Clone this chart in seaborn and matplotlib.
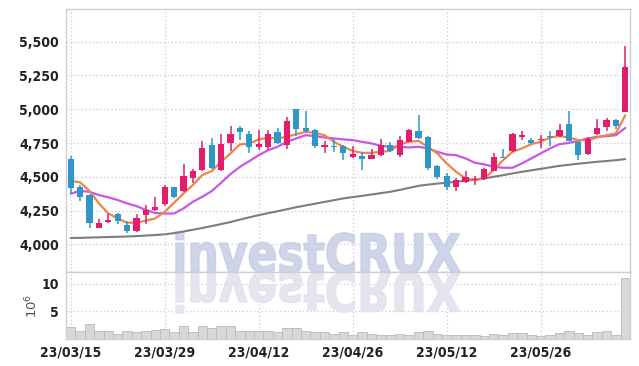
import numpy as np
import pandas as pd
import matplotlib
matplotlib.use("Agg")
import matplotlib.pyplot as plt
import seaborn as sns
from matplotlib import font_manager
from matplotlib.textpath import TextPath
from matplotlib.patches import PathPatch
from matplotlib.transforms import Affine2D
from matplotlib.font_manager import FontProperties

# ---------------- data ----------------
dates = ["23/03/15", "23/03/16", "23/03/17", "23/03/20", "23/03/21", "23/03/22", "23/03/23",
         "23/03/24", "23/03/27", "23/03/28", "23/03/29", "23/03/30", "23/03/31", "23/04/03",
         "23/04/04", "23/04/05", "23/04/06", "23/04/07", "23/04/10", "23/04/11", "23/04/12",
         "23/04/13", "23/04/14", "23/04/17", "23/04/18", "23/04/19", "23/04/20", "23/04/21",
         "23/04/24", "23/04/25", "23/04/26", "23/04/27", "23/04/28", "23/05/02", "23/05/03",
         "23/05/04", "23/05/08", "23/05/09", "23/05/10", "23/05/11", "23/05/12", "23/05/15",
         "23/05/16", "23/05/17", "23/05/18", "23/05/19", "23/05/22", "23/05/23", "23/05/24",
         "23/05/25", "23/05/26", "23/05/30", "23/05/31", "23/06/01", "23/06/02", "23/06/05",
         "23/06/07", "23/06/08", "23/06/09", "23/06/12"]

opens = [4635, 4425, 4368, 4121, 4163, 4228, 4146, 4097, 4215, 4252,
         4297, 4425, 4393, 4489, 4553, 4738, 4553, 4751, 4864, 4820,
         4721, 4719, 4835, 4733, 5000, 4859, 4849, 4724, 4731, 4726,
         4645, 4652, 4632, 4659, 4738, 4659, 4758, 4842, 4798, 4583,
         4509, 4427, 4460, 4474, 4482, 4546, 4650, 4689, 4798, 4775,
         4769, 4804, 4799, 4890, 4760, 4668, 4816, 4866, 4920, 4983]
highs = [4657, 4437, 4370, 4188, 4225, 4230, 4171, 4225, 4294, 4348,
         4437, 4428, 4595, 4561, 4763, 4788, 4817, 4874, 4874, 4837,
         4849, 4849, 4859, 4943, 5000, 4985, 4852, 4763, 4780, 4738,
         4726, 4684, 4706, 4780, 4756, 4800, 4852, 4956, 4800, 4585,
         4526, 4492, 4546, 4509, 4566, 4674, 4709, 4825, 4837, 4790,
         4811, 4841, 4890, 4990, 4765, 4794, 4927, 4935, 4925, 5465]
lows = [4373, 4320, 4121, 4118, 4160, 4151, 4084, 4092, 4153, 4245,
        4287, 4345, 4385, 4457, 4543, 4560, 4545, 4689, 4770, 4677,
        4701, 4701, 4745, 4706, 4800, 4830, 4714, 4677, 4684, 4627,
        4640, 4553, 4630, 4655, 4685, 4650, 4755, 4780, 4548, 4487,
        4405, 4393, 4455, 4442, 4480, 4540, 4640, 4685, 4770, 4745,
        4713, 4730, 4795, 4770, 4625, 4665, 4812, 4836, 4852, 4978]
closes = [4415, 4348, 4156, 4161, 4178, 4171, 4097, 4195, 4257, 4279,
          4425, 4348, 4509, 4546, 4714, 4568, 4746, 4820, 4830, 4719,
          4746, 4820, 4751, 4916, 4852, 4837, 4731, 4738, 4719, 4674,
          4672, 4632, 4664, 4738, 4689, 4775, 4849, 4785, 4566, 4497,
          4427, 4477, 4499, 4487, 4558, 4650, 4642, 4820, 4810, 4751,
          4781, 4794, 4846, 4762, 4658, 4779, 4860, 4920, 4876, 5311]

ma5 = [4470, 4459, 4396, 4303, 4229, 4192, 4160, 4160, 4175, 4192,
       4241, 4308, 4377, 4439, 4513, 4542, 4611, 4673, 4740, 4745,
       4777, 4789, 4784, 4796, 4816, 4833, 4825, 4808, 4759, 4722,
       4692, 4677, 4677, 4685, 4692, 4742, 4759, 4766, 4722, 4673,
       4599, 4537, 4488, 4476, 4488, 4550, 4623, 4685, 4710, 4742,
       4759, 4791, 4801, 4791, 4771, 4771, 4791, 4808, 4821, 4956]
ma20 = [4375, 4396, 4389, 4365, 4348, 4328, 4303, 4283, 4254, 4232,
        4228, 4228, 4266, 4315, 4352, 4394, 4456, 4520, 4574, 4616,
        4660, 4697, 4722, 4759, 4784, 4808, 4801, 4791, 4784, 4777,
        4771, 4759, 4747, 4729, 4722, 4722, 4717, 4722, 4710, 4685,
        4665, 4660, 4636, 4604, 4592, 4574, 4567, 4567, 4599, 4636,
        4673, 4710, 4742, 4751, 4766, 4784, 4796, 4801, 4808, 4862]
ma_long = [4047, 4048, 4050, 4052, 4054, 4056, 4058, 4061, 4065, 4069,
           4074, 4083, 4095, 4108, 4121, 4135, 4150, 4165, 4183, 4200,
           4216, 4231, 4245, 4260, 4275, 4288, 4301, 4314, 4327, 4340,
           4350, 4359, 4369, 4379, 4389, 4403, 4418, 4433, 4442, 4450,
           4456, 4463, 4471, 4479, 4488, 4500, 4512, 4525, 4537, 4548,
           4559, 4570, 4581, 4589, 4597, 4604, 4611, 4617, 4623, 4631]

volume = [2.13, 1.46, 2.74, 1.28, 1.28, 0.85, 1.46, 1.16, 1.34, 1.52,
          1.65, 1.22, 2.20, 1.16, 2.20, 1.83, 2.20, 2.20, 1.46, 1.46,
          1.28, 1.28, 1.10, 1.83, 1.83, 1.46, 1.16, 1.10, 0.85, 1.10,
          0.73, 1.10, 0.85, 0.67, 0.67, 0.85, 0.67, 1.10, 1.40, 0.85,
          0.67, 0.73, 0.67, 0.67, 0.43, 0.85, 0.67, 1.04, 1.04, 0.67,
          0.43, 0.67, 1.04, 1.40, 1.04, 0.67, 1.10, 1.28, 0.67, 11.1]

price_ticks = [4000, 4250, 4500, 4750, 5000, 5250, 5500]
volume_ticks = [5, 10]
label_every = 10

# ---------------- styling ----------------
sns.set_theme(style="white")
avail = {f.name for f in font_manager.fontManager.ttflist}
tick_family = "Liberation Sans Narrow" if "Liberation Sans Narrow" in avail else "DejaVu Sans"
plt.rcParams["font.family"] = [tick_family, "DejaVu Sans"]

RED = "#e31c6c"
BLUE = "#2f96c8"
ORANGE = "#ef8548"
PURPLE = "#cb55e6"
GRAY = "#7d7d7d"
GRID = "#c6c9dc"
SPINE = "#cfcfcf"

W, H = 639, 366
fig = plt.figure(figsize=(W / 100, H / 100), dpi=100)
fig.patch.set_facecolor("white")
left, right = 66, 630
top, mid, bottom = 9.3, 272.3, 338.5
ax = fig.add_axes([left / W, (H - mid) / H, (right - left) / W, (mid - top) / H])
axv = fig.add_axes([left / W, (H - bottom) / H, (right - left) / W, (bottom - mid) / H])

df = pd.DataFrame({"date": dates, "open": opens, "high": highs, "low": lows,
                   "close": closes, "ma5": ma5, "ma20": ma20, "ma_long": ma_long,
                   "volume": volume})
df["idx"] = np.arange(len(df))
up = df["close"] >= df["open"]
colors = np.where(up, RED, BLUE)

# moving averages
sns.lineplot(data=df, x="idx", y="ma_long", ax=ax, color=GRAY, lw=1.5, zorder=2)
sns.lineplot(data=df, x="idx", y="ma20", ax=ax, color=PURPLE, lw=1.6, zorder=2)
sns.lineplot(data=df, x="idx", y="ma5", ax=ax, color=ORANGE, lw=1.6, zorder=2)

# candles
ax.vlines(df["idx"], df["low"], df["high"], colors=colors, lw=1.1, zorder=3)
body_lo = np.minimum(df["open"], df["close"])
body_h = np.maximum(np.abs(df["close"] - df["open"]), 8)
ax.bar(df["idx"], body_h, bottom=body_lo, width=0.68, color=colors, lw=0, zorder=4)

ax.set_xlim(-0.5, len(df) - 0.5)
ax.set_ylim(3793, 5740)
ax.set_yticks(price_ticks)
ax.set_yticklabels([f"{v:,}" for v in price_ticks])
xt = list(range(0, len(df), label_every))
ax.set_xticks(xt)
ax.set_xticklabels([])
ax.set_xlabel("")
ax.set_ylabel("")

# volume
sns.barplot(data=df, x="idx", y="volume", ax=axv, color="#d8d8d8", width=1.0,
            edgecolor="#b9b9b9", linewidth=0.6, saturation=1, zorder=2)
axv.set_xlim(-0.5, len(df) - 0.5)
axv.set_ylim(0, 12.1)
axv.set_yticks(volume_ticks)
axv.set_yticklabels([str(v) for v in volume_ticks])
axv.set_xticks(xt)
axv.set_xticklabels([dates[i] for i in xt])
axv.set_xlabel("")
axv.set_ylabel("$10^6$", color="#555555", fontsize=9.5, labelpad=1)

for a in (ax, axv):
    a.set_facecolor("white")
    a.grid(True, color=GRID, linestyle=(0, (1, 2)), lw=0.9)
    a.set_axisbelow(True)
    a.tick_params(axis="both", length=0, labelsize=10, labelcolor="#222222", pad=5)
    for s in a.spines.values():
        s.set_color(SPINE)
        s.set_linewidth(1.0)
    for lbl in a.get_yticklabels() + a.get_xticklabels():
        lbl.set_fontweight("bold")
        lbl.set_fontstretch("condensed")

# watermark with reflection
tp = TextPath((0, 0), "investCRUX", size=100,
              prop=FontProperties(family="DejaVu Sans", weight="bold"))
ext = tp.get_extents()
sx = (460 - 176) / (ext.x1 - ext.x0)
sy = 40 / ext.y1
to_fig = Affine2D().scale(1 / W, 1 / H) + fig.transFigure
tr_main = Affine2D().translate(-ext.x0, 0).scale(sx, sy).translate(176, H - 272) + to_fig
tr_refl = Affine2D().translate(-ext.x0, 0).scale(sx, -sy).translate(176, H - 273) + to_fig
ax.add_patch(PathPatch(tp, transform=tr_main, fc="#c7cee6", ec="#c7cee6", lw=1.2,
                       alpha=0.85, zorder=1.5, clip_on=False))
axv.add_patch(PathPatch(tp, transform=tr_refl, fc="#e3e3ee", ec="#e3e3ee", lw=1.2,
                        alpha=0.9, zorder=1.5, clip_on=True))

fig.savefig("out.png", dpi=100, facecolor="white")
